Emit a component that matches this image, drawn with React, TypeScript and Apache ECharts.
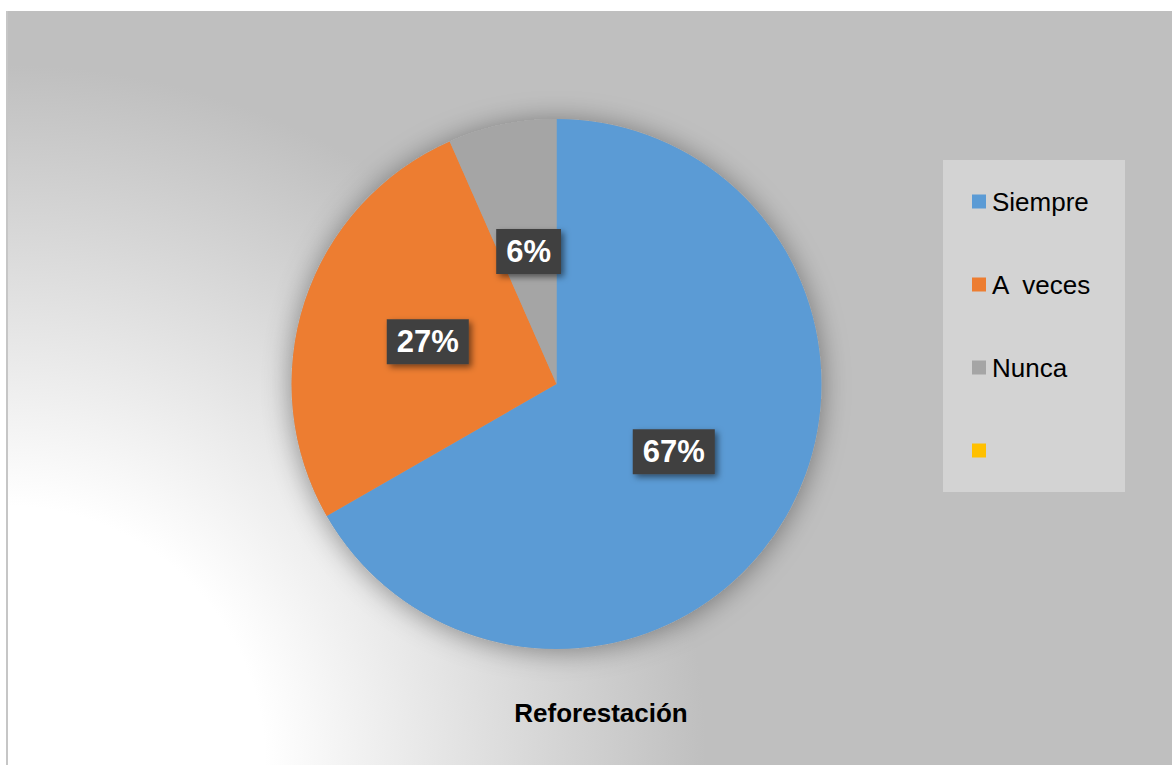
import React, { useEffect, useRef } from 'react';
import * as echarts from 'echarts';

const categories = ['Siempre', 'A  veces', 'Nunca', ' '];
const values = [66.7, 26.7, 6.6, 0];
const percentLabels = ['67%', '27%', '6%', ''];
const colors = ['#5B9BD5', '#ED7D31', '#A5A5A5', '#FFC000'];
const chartTitle = 'Reforestación';

const FONT = '"Liberation Sans", Arial, sans-serif';

export default function App() {
  const ref = useRef<HTMLDivElement>(null);

  useEffect(() => {
    if (!ref.current) return;
    const chart = echarts.init(ref.current, null, { renderer: 'svg' });

    const pieData = categories.map((name, i) => ({
      name,
      value: values[i],
      itemStyle: { color: colors[i] },
      label: values[i] > 0 ? undefined : { show: false },
    }));

    const option: any = {
      animation: false,
      backgroundColor: '#ffffff',
      legend: {
        orient: 'vertical',
        left: 972,
        top: 188.5,
        padding: 0,
        itemWidth: 14,
        itemHeight: 14,
        itemGap: 57,
        icon: 'rect',
        selectedMode: false,
        data: categories,
        textStyle: {
          fontSize: 26,
          lineHeight: 26,
          fontFamily: FONT,
          color: '#000000',
          padding: [0, 0, 0, 1],
        },
        z: 20,
      },
      graphic: [
        {
          type: 'rect',
          z: -10,
          silent: true,
          shape: { x: 6, y: 11, width: 1166, height: 754 },
          style: {
            fill: {
              type: 'radial',
              x: 6,
              y: 765,
              r: 700,
              global: true,
              colorStops: [
                { offset: 0, color: '#ffffff' },
                { offset: 0.37, color: '#ffffff' },
                { offset: 1, color: '#bfbfbf' },
              ],
            },
          },
        },
        {
          type: 'rect',
          z: -9,
          silent: true,
          shape: { x: 6, y: 11, width: 2, height: 754 },
          style: { fill: '#c6c6c6' },
        },
        {
          type: 'rect',
          z: -8,
          silent: true,
          shape: { x: 943, y: 160, width: 182, height: 332 },
          style: { fill: '#d3d3d3' },
        },
        {
          type: 'text',
          z: 50,
          silent: true,
          x: 601,
          y: 713,
          style: {
            text: chartTitle,
            align: 'center',
            verticalAlign: 'middle',
            fontSize: 26,
            fontWeight: 'bold',
            fontFamily: FONT,
            fill: '#000000',
          },
        },
      ],
      series: [
        {
          type: 'pie',
          name: 'shadow',
          z: 1,
          silent: true,
          center: [556.5, 384],
          radius: 265,
          label: { show: false },
          labelLine: { show: false },
          emphasis: { disabled: true },
          itemStyle: {
            color: '#a5a5a5',
            shadowBlur: 28,
            shadowColor: 'rgba(0,0,0,0.4)',
            shadowOffsetY: 2,
          },
          data: [{ value: 1, name: '__shadow__' }],
        },
        {
          type: 'pie',
          name: 'Reforestación',
          z: 2,
          center: [556.5, 384],
          radius: 265,
          startAngle: 90,
          clockwise: true,
          emphasis: { disabled: true },
          labelLine: { show: false },
          label: {
            show: true,
            position: 'inside',
            formatter: (p: any) => percentLabels[p.dataIndex],
            color: '#ffffff',
            fontSize: 31,
            fontWeight: 'bold',
            fontFamily: FONT,
            lineHeight: 34,
            backgroundColor: '#404040',
            padding: [6, 10, 5, 10],
            shadowColor: 'rgba(0,0,0,0.5)',
            shadowBlur: 6,
            shadowOffsetX: 3,
            shadowOffsetY: 3,
          },
          data: pieData,
        },
      ],
    };

    chart.setOption(option);
    return () => chart.dispose();
  }, []);

  return (
    <div
      ref={ref}
      style={{ position: 'absolute', left: 0, top: 0, width: 1172, height: 765 }}
    />
  );
}
